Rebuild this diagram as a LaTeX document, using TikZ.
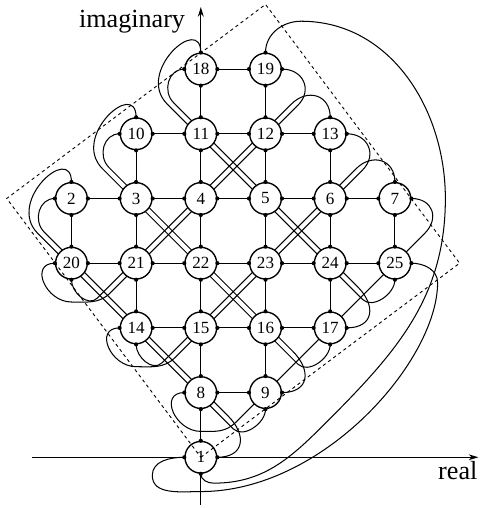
\documentclass[tikz,border=0pt]{standalone}
\usepackage{fontspec}
\setmainfont{Liberation Serif}
\usetikzlibrary{arrows.meta}
\pgfdeclarelayer{back}
\pgfsetlayers{back,main}

\begin{document}
\begin{tikzpicture}[>={Stealth[length=1.5mm,width=0.9mm]},
  vertex/.style={circle,draw,line width=0.6pt,fill=white,minimum size=4.9mm,inner sep=0pt,font=\fontsize{7.5}{9}\selectfont},
  wire/.style={line width=0.45pt},
  axislbl/.style={anchor=base,inner sep=0pt,font=\fontsize{11.5}{13}\selectfont},
  drw/.style={out=180,in=135,distance=2.5mm},
  drn/.style={out=90,in=135,out distance=6mm,in distance=7mm},
  dre/.style={out=-45,in=0,distance=4.2mm},
  drs/.style={out=-45,in=-90,distance=2.2mm},
  ure/.style={out=0,in=45,distance=3.3mm},
  urn/.style={out=90,in=45,distance=3.5mm},
  urwa/.style={out=225,in=0,distance=2.4mm},
  urwb/.style={out=180,in=180,distance=4mm},
  urs/.style={out=225,in=-90,distance=2mm}]
\useasboundingbox (-3.104,-0.784) rectangle (4.300,7.068);
\node[vertex] (n18) at (0,6) {18};
\node[vertex] (n19) at (1,6) {19};
\node[vertex] (n10) at (-1,5) {10};
\node[vertex] (n11) at (0,5) {11};
\node[vertex] (n12) at (1,5) {12};
\node[vertex] (n13) at (2,5) {13};
\node[vertex] (n2) at (-2,4) {2};
\node[vertex] (n3) at (-1,4) {3};
\node[vertex] (n4) at (0,4) {4};
\node[vertex] (n5) at (1,4) {5};
\node[vertex] (n6) at (2,4) {6};
\node[vertex] (n7) at (3,4) {7};
\node[vertex] (n20) at (-2,3) {20};
\node[vertex] (n21) at (-1,3) {21};
\node[vertex] (n22) at (0,3) {22};
\node[vertex] (n23) at (1,3) {23};
\node[vertex] (n24) at (2,3) {24};
\node[vertex] (n25) at (3,3) {25};
\node[vertex] (n14) at (-1,2) {14};
\node[vertex] (n15) at (0,2) {15};
\node[vertex] (n16) at (1,2) {16};
\node[vertex] (n17) at (2,2) {17};
\node[vertex] (n8) at (0,1) {8};
\node[vertex] (n9) at (1,1) {9};
\node[vertex] (n1) at (0,0) {1};
\foreach \nn in {1,...,25}
  \foreach \pp in {north,south,east,west}
    \fill (n\nn.\pp) circle (0.032);
\coordinate (re0) at (-2.614,0);
\coordinate (re1) at (4.29,0);
\coordinate (im0) at (0,-0.737);
\coordinate (im1) at (0,6.96);
\node[axislbl] (imlbl) at (-1.063,6.646) {imaginary};
\node[axislbl] (relbl) at (3.972,-0.351) {real};
\begin{pgfonlayer}{back}
\draw[->,wire] (re0) -- (re1);
\draw[->,wire] (im0) -- (im1);
\draw[wire] (n18) -- (n19) (n10) -- (n11) -- (n12) -- (n13)
  (n2) -- (n3) -- (n4) -- (n5) -- (n6) -- (n7)
  (n20) -- (n21) -- (n22) -- (n23) -- (n24) -- (n25)
  (n14) -- (n15) -- (n16) -- (n17) (n8) -- (n9);
\draw[wire] (n18) -- (n11) -- (n4) -- (n22) -- (n15) -- (n8) -- (n1)
  (n19) -- (n12) -- (n5) -- (n23) -- (n16) -- (n9)
  (n10) -- (n3) -- (n21) -- (n14) (n13) -- (n6) -- (n24) -- (n17)
  (n2) -- (n20) (n7) -- (n25);
\draw[wire] (n18.west) to[drw] (-0.42,5.48) -- (2.42,2.64) to[dre] (n17.east);
\draw[wire] (n18.north) to[drn] (-0.52,5.46) -- (2.5,2.44) to[drs] (n25.south);
\draw[wire] (n10.west) to[drw] (-1.42,4.48) -- (1.42,1.64) to[dre] (n9.east);
\draw[wire] (n10.north) to[drn] (-1.52,4.46) -- (1.5,1.44) to[drs] (n17.south);
\draw[wire] (n2.west) to[drw] (-2.42,3.48) -- (0.42,0.64) to[dre] (n1.east);
\draw[wire] (n2.north) to[drn] (-2.52,3.46) -- (0.5,0.44) to[drs] (n9.south);
\draw[wire] (n19.east) to[ure] (1.5,5.44) -- (-1.4,2.54) to[urwa] (-2,2.4) to[urwb] (n20.west);
\draw[wire] (n13.north) to[urn] (1.4,5.46) -- (-1.6,2.46) to[urs] (n20.south);
\draw[wire] (n13.east) to[ure] (2.5,4.44) -- (-0.4,1.54) to[urwa] (-1,1.4) to[urwb] (n14.west);
\draw[wire] (n7.north) to[urn] (2.4,4.46) -- (-0.6,1.46) to[urs] (n14.south);
\draw[wire] (n7.east) to[ure] (3.46,3.46) -- (0.55,0.55) to[urwa] (0,0.4) to[urwb] (n8.west);
\draw[wire] (n19.north) to[out=90,in=180] (1.55,6.74) to[out=0,in=90] (3.78,4.0)
  to[out=-90,in=45] (1.9,0.5) to[out=225,in=0] (0.2,-0.4) to[out=180,in=-90] (n1.south);
\draw[wire] (n25.east) to[out=0,in=90] (3.66,2.7) to[out=-90,in=0,out distance=12mm,in distance=19mm] (0,-0.53)
  to[out=180,in=-90] (-0.75,-0.28) to[out=90,in=180] (n1.west);
\end{pgfonlayer}
\draw[line width=0.4pt,dash pattern=on 1.4pt off 1.4pt] (0,0) -- (4,3) -- (1,7) -- (-3,4) -- cycle;
\end{tikzpicture}
\end{document}
